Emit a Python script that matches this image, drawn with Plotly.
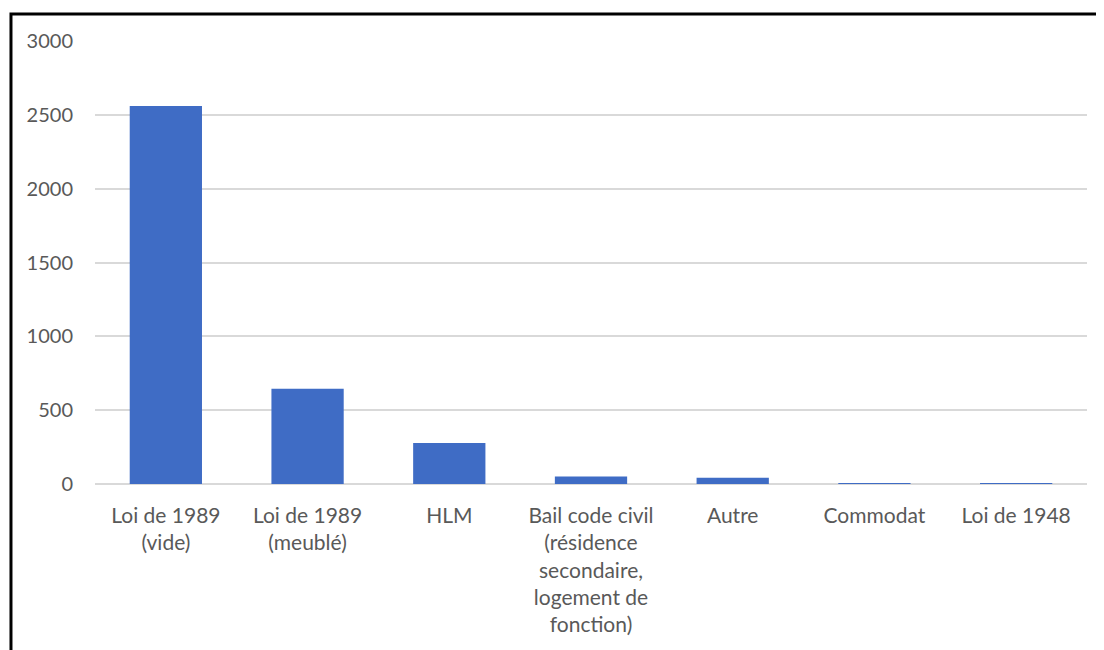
import plotly.graph_objects as go

categories = [
    "Loi de 1989<br>(vide)",
    "Loi de 1989<br>(meublé)",
    "HLM",
    "Bail code civil<br>(résidence<br>secondaire,<br>logement de<br>fonction)",
    "Autre",
    "Commodat",
    "Loi de 1948",
]
values = [2560, 645, 278, 50, 42, 4, 2]
y_ticks = [0, 500, 1000, 1500, 2000, 2500, 3000]

fig = go.Figure()
fig.add_trace(go.Bar(
    x=categories,
    y=values,
    marker=dict(color="#3F6CC5", line=dict(width=0)),
    width=0.51,
    hoverinfo="x+y",
))

font_family = "Lato, 'Open Sans', 'Liberation Sans', sans-serif"
fig.update_layout(
    width=1096,
    height=642,
    margin=dict(l=87, r=17, t=33, b=166),
    paper_bgcolor="white",
    plot_bgcolor="white",
    showlegend=False,
    font=dict(family=font_family, size=21, color="#595959"),
    xaxis=dict(
        showgrid=False,
        showline=False,
        ticks="",
        tickfont=dict(size=21, color="#595959"),
        ticklabelstandoff=17,
        tickangle=0,
    ),
    yaxis=dict(
        range=[0, 3000],
        tickvals=y_ticks,
        showgrid=True,
        gridcolor="#D9D9D9",
        gridwidth=1.5,
        zeroline=True,
        zerolinecolor="#D9D9D9",
        zerolinewidth=1.5,
        showline=False,
        ticks="",
        tickfont=dict(size=20, color="#595959"),
        ticklabelstandoff=21,
    ),
    shapes=[
        dict(
            type="rect",
            xref="paper", yref="paper",
            x0=-0.0847, x1=1.2,
            y0=-1.0, y1=1.061,
            line=dict(color="black", width=3),
            fillcolor="rgba(0,0,0,0)",
            layer="above",
        )
    ],
)

fig.write_html("out.html")
